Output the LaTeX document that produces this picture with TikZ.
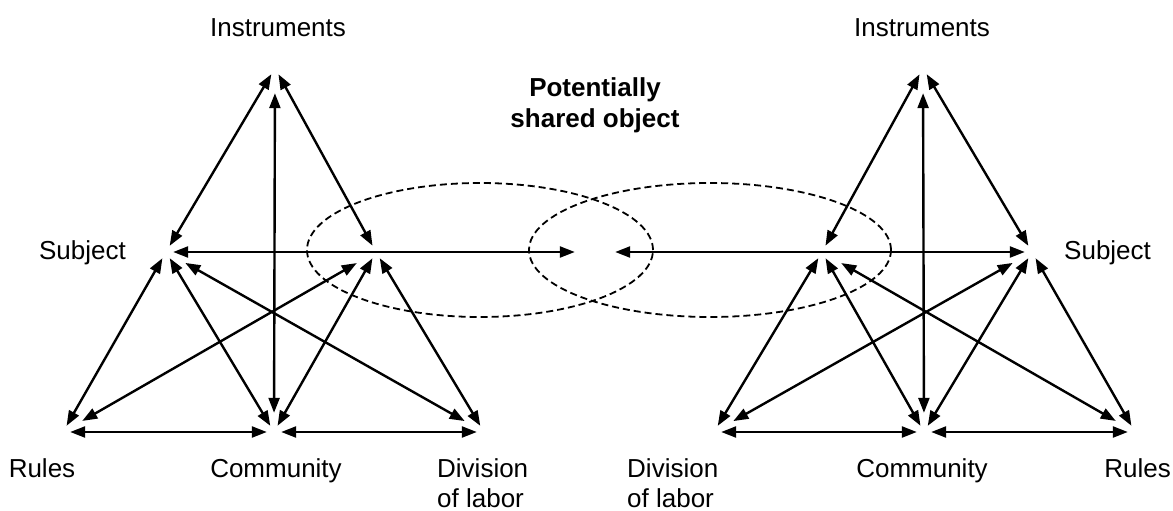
\documentclass[tikz,border=0pt]{standalone}
\usepackage{fontspec}
\setmainfont{Liberation Sans}
\usetikzlibrary{arrows.meta}
\begin{document}
\begin{tikzpicture}[x=1pt,y=-1pt,
  pt/.style={circle,minimum size=14pt,inner sep=0pt},
  objpt/.style={circle,minimum size=40pt,inner sep=0pt},
  link/.style={line width=2.4pt,{Triangle[length=15pt,width=11pt]}-{Triangle[length=15pt,width=11pt]}},
  longlink/.style={link,shorten <=15pt,shorten >=15pt},
  vlink/.style={link,shorten <=18pt,shorten >=12pt},
  ring/.style={line width=1.8pt,dash pattern=on 7pt off 4pt},
  lbl/.style={font=\fontsize{26}{30}\selectfont,inner sep=0pt,anchor=base},
  blbl/.style={font=\fontsize{26}{30}\selectfont\bfseries,inner sep=0pt,anchor=base},
]
\useasboundingbox (0,0) rectangle (1173,511);

% shared object ellipses
\draw[ring] (480,250) ellipse [x radius=173pt, y radius=67pt];
\draw[ring] (710,250) ellipse [x radius=181pt, y radius=67pt];

% left activity system
\node[pt] (lI) at (275,68) {};
\node[pt] (lS) at (166,252) {};
\node[pt] (lO) at (376,252) {};
\node[pt] (lR) at (63,432) {};
\node[pt] (lC) at (274,432) {};
\node[pt] (lD) at (484,432) {};

% right activity system
\node[pt] (rI) at (923,68) {};
\node[pt] (rS) at (1032,252) {};
\node[pt] (rO) at (822,252) {};
\node[pt] (rR) at (1135,432) {};
\node[pt] (rC) at (924,432) {};
\node[pt] (rD) at (714,432) {};

% shared object
\node[objpt] (obj) at (595,252) {};

% left connectors
\draw[link] (lI) -- (lS);
\draw[link] (lI) -- (lO);
\draw[vlink] (lI) -- (lC);
\draw[link] (lS) -- (obj);
\draw[link] (lS) -- (lR);
\draw[link] (lS) -- (lC);
\draw[longlink] (lS) -- (lD);
\draw[longlink] (lO) -- (lR);
\draw[link] (lO) -- (lC);
\draw[link] (lO) -- (lD);
\draw[link] (lR) -- (lC);
\draw[link] (lC) -- (lD);

% right connectors
\draw[link] (rI) -- (rS);
\draw[link] (rI) -- (rO);
\draw[vlink] (rI) -- (rC);
\draw[link] (rS) -- (obj);
\draw[link] (rS) -- (rR);
\draw[link] (rS) -- (rC);
\draw[longlink] (rS) -- (rD);
\draw[longlink] (rO) -- (rR);
\draw[link] (rO) -- (rC);
\draw[link] (rO) -- (rD);
\draw[link] (rR) -- (rC);
\draw[link] (rC) -- (rD);

% labels
\node[lbl] (tIl) at (278,37) {Instruments};
\node[lbl] (tIr) at (922,37) {Instruments};
\node[blbl] (tPot) at (595,96) {Potentially};
\node[blbl] (tSh) at (595,127) {shared object};
\node[lbl,anchor=base east] (tSl) at (126,259) {Subject};
\node[lbl,anchor=base west] (tSr) at (1064,259) {Subject};
\node[lbl] (tRl) at (42,477) {Rules};
\node[lbl] (tCl) at (276,477) {Community};
\node[lbl,anchor=base west] (tDl) at (437,477) {Division};
\node[lbl,anchor=base west] (tDl2) at (437,507) {of labor};
\node[lbl,anchor=base west] (tDr) at (627,477) {Division};
\node[lbl,anchor=base west] (tDr2) at (627,507) {of labor};
\node[lbl] (tCr) at (922,477) {Community};
\node[lbl,anchor=base east] (tRr) at (1171,477) {Rules};
\end{tikzpicture}
\end{document}
